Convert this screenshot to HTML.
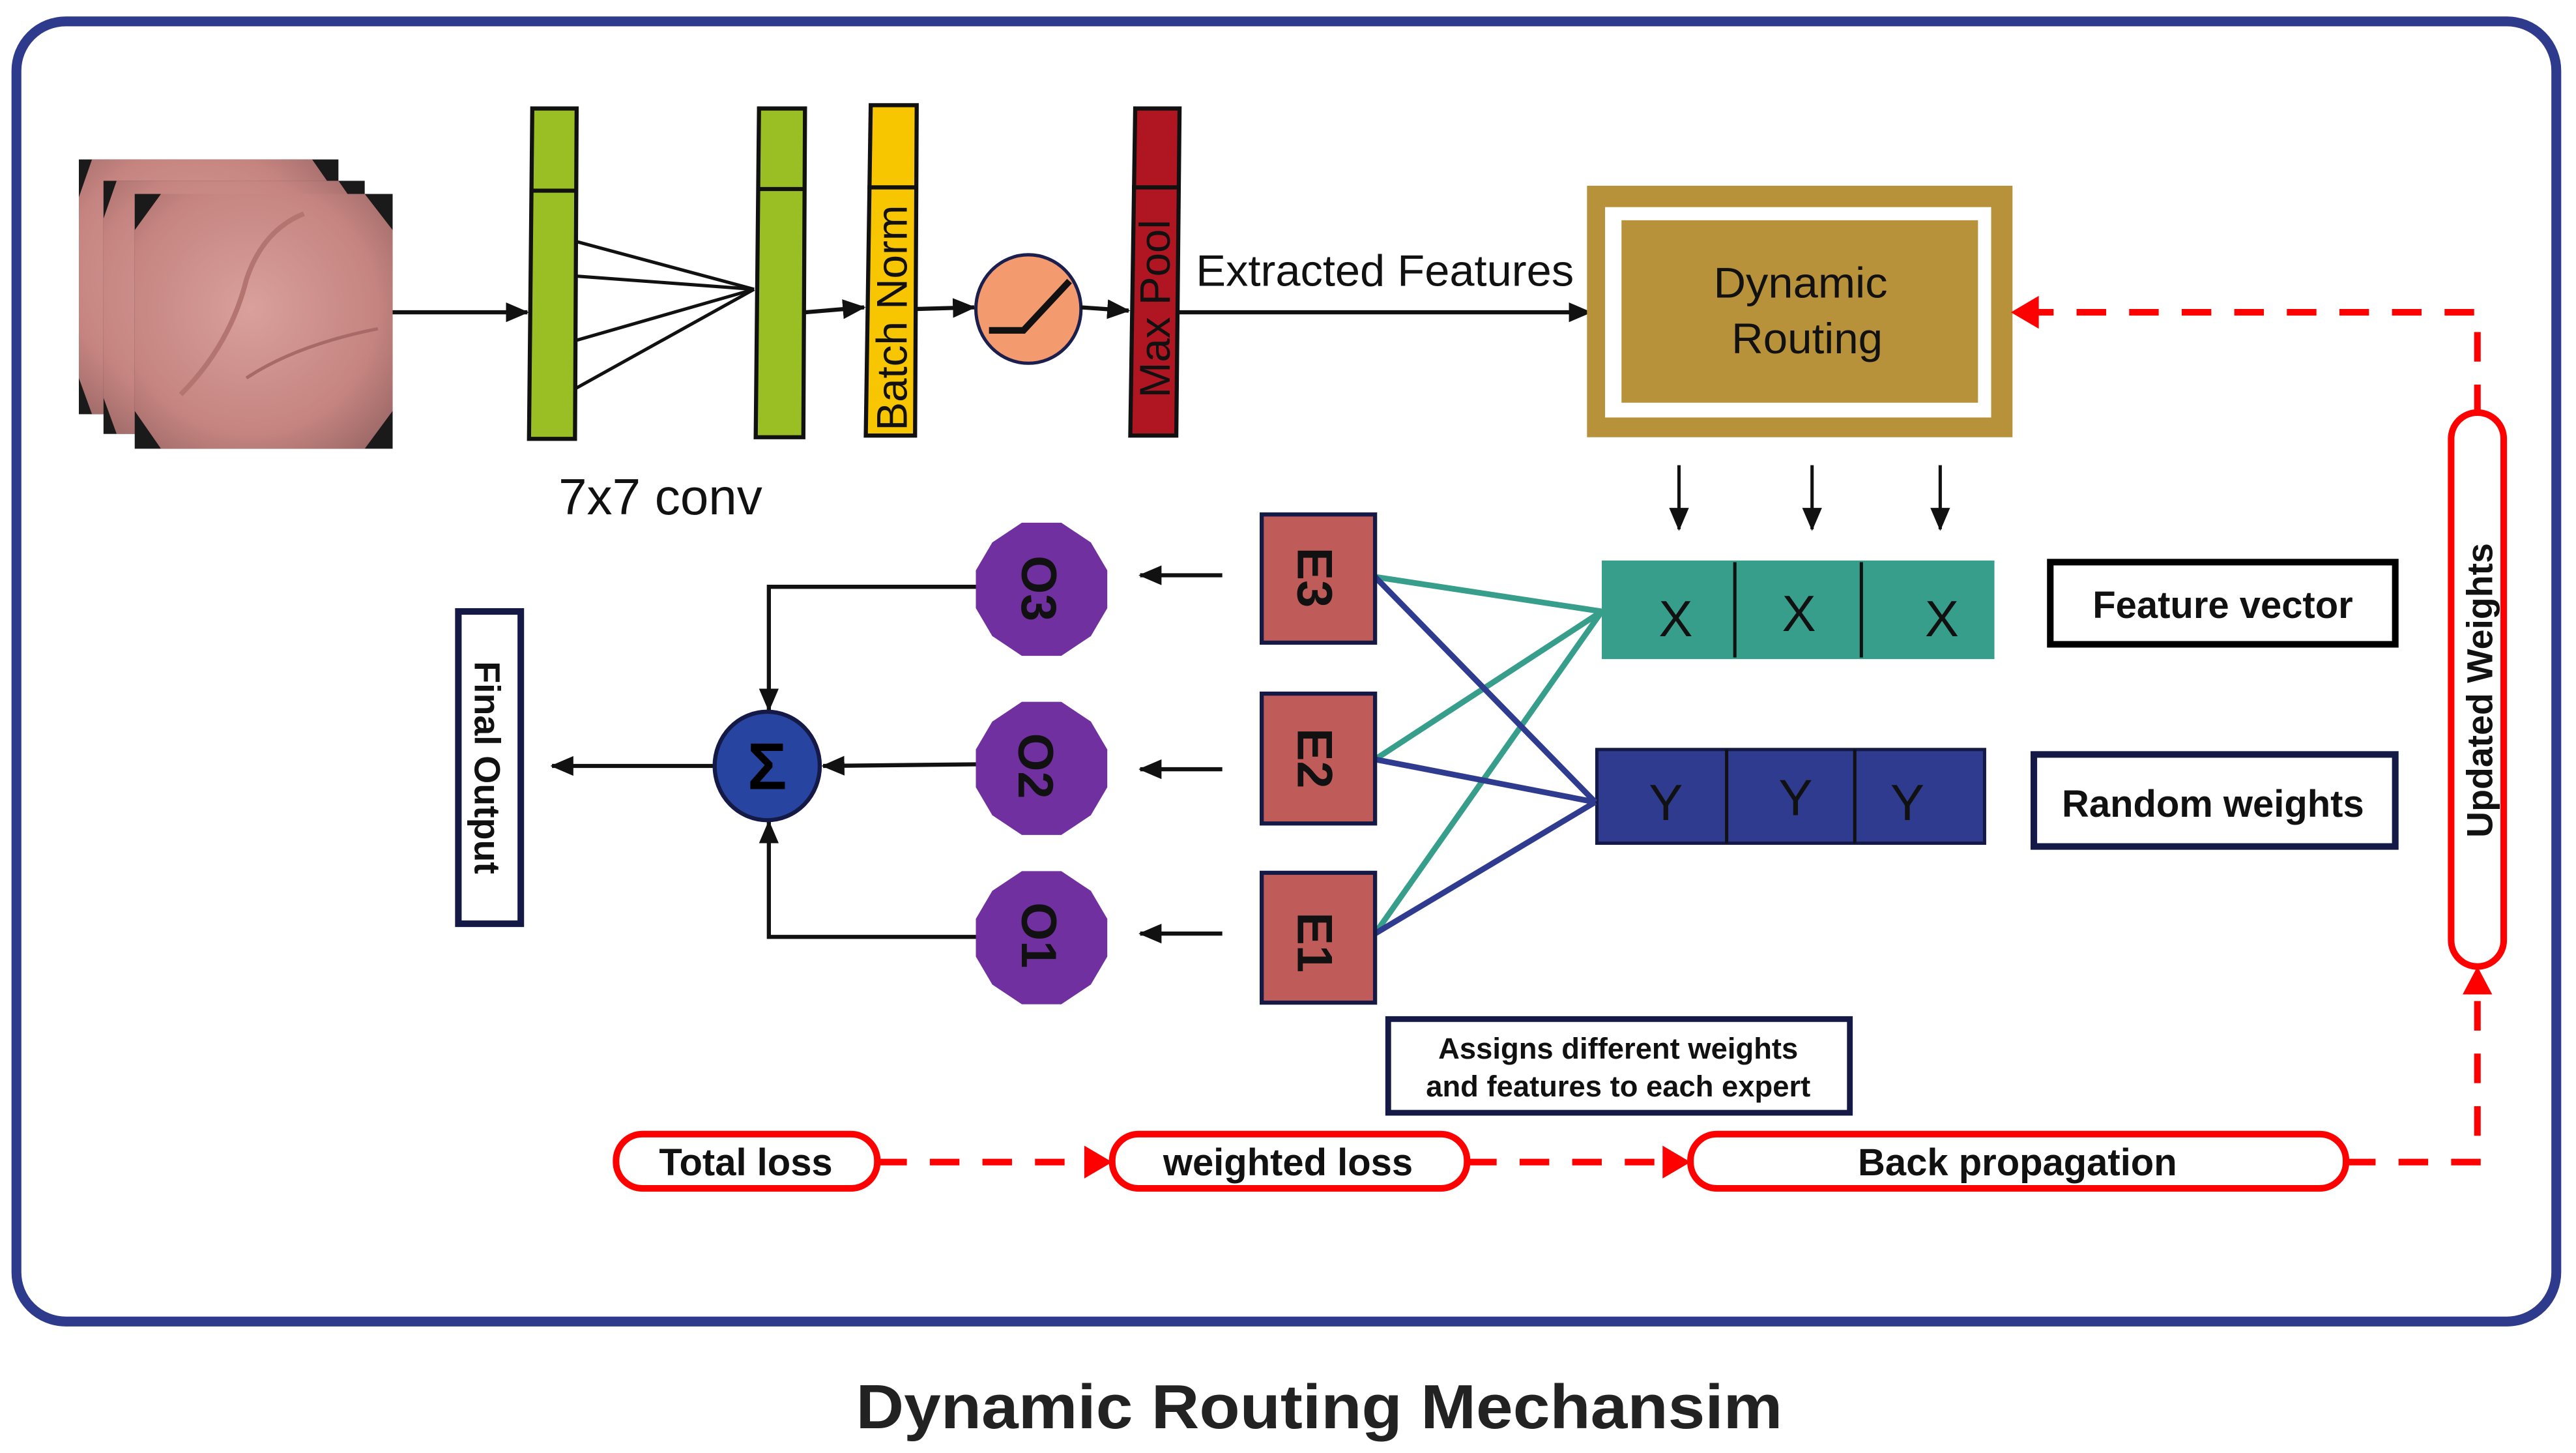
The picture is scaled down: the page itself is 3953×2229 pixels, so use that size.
<!DOCTYPE html>
<html><head><meta charset="utf-8"><style>
html,body{margin:0;padding:0;background:#fff;}
svg{display:block;}
text{font-family:"Liberation Sans",sans-serif;}
</style></head><body>
<svg width="3953" height="2229" viewBox="0 0 1568 884" preserveAspectRatio="none" xmlns="http://www.w3.org/2000/svg">
<defs>
<marker id="ab" markerWidth="14" markerHeight="12" refX="13" refY="6" orient="auto" markerUnits="userSpaceOnUse"><path d="M0,0 L14,6 L0,12 z" fill="#111"/></marker>
<radialGradient id="pk" cx="0.45" cy="0.45" r="0.7"><stop offset="0" stop-color="#d9a09c"/><stop offset="0.7" stop-color="#c58480"/><stop offset="1" stop-color="#9e6a68"/></radialGradient>
</defs>
<rect x="10" y="13" width="1546" height="791" rx="30" fill="none" stroke="#2e3a8c" stroke-width="6"/>

<g>
<rect x="48" y="97" width="158" height="155" fill="#1a1a1a"/>
<polygon points="56,97 190,97 206,120 206,230 190,252 56,252 48,230 48,120" fill="url(#pk)"/>
<rect x="63" y="110" width="159" height="154" fill="#1a1a1a"/>
<polygon points="71,110 206,110 222,133 222,242 206,264 71,264 63,242 63,133" fill="url(#pk)"/>
<rect x="82" y="118" width="157" height="155" fill="#1a1a1a"/>
<polygon points="98,118 222,118 239,140 239,250 222,273 98,273 82,250 82,140" fill="url(#pk)"/>
<path d="M110,240 Q140,210 150,170 Q160,140 185,130" stroke="#b47571" stroke-width="3" fill="none"/>
<path d="M150,230 Q180,210 230,200" stroke="#a86a68" stroke-width="2" fill="none"/>
</g>
<line x1="239" y1="190" x2="321" y2="190" stroke="#111" stroke-width="2.5" marker-end="url(#ab)"/>

<polygon points="324,66 351,66 350,267 322,267" fill="#9abf25" stroke="#111" stroke-width="2.5"/>
<line x1="323" y1="116" x2="350" y2="116" stroke="#111" stroke-width="2.5"/>
<polygon points="462,66 490,66 489,266 460,266" fill="#9abf25" stroke="#111" stroke-width="2.5"/>
<line x1="461" y1="115" x2="489" y2="115" stroke="#111" stroke-width="2.5"/>
<g stroke="#111" stroke-width="2">
<line x1="351" y1="147" x2="459" y2="176"/><line x1="351" y1="168" x2="459" y2="176"/>
<line x1="351" y1="207" x2="459" y2="176"/><line x1="351" y1="236" x2="459" y2="176"/>
</g>
<text x="402" y="313" font-size="31" text-anchor="middle" fill="#111">7x7 conv</text>
<line x1="490" y1="190" x2="526" y2="187" stroke="#111" stroke-width="2.5" marker-end="url(#ab)"/>
<polygon points="530,64 558,64 557,265 527,265" fill="#f7c600" stroke="#111" stroke-width="2.5"/>
<line x1="528" y1="114" x2="557" y2="114" stroke="#111" stroke-width="2.5"/>
<text transform="translate(552,262) rotate(-90)" font-size="26" fill="#111">Batch Norm</text>
<line x1="557" y1="188" x2="593" y2="187" stroke="#111" stroke-width="2.5" marker-end="url(#ab)"/>
<ellipse cx="626" cy="188" rx="32" ry="33" fill="#f39a6e" stroke="#1a1f4e" stroke-width="2"/>
<polyline points="602,201 623,201 651,171" fill="none" stroke="#111" stroke-width="4"/>
<line x1="658" y1="187" x2="687" y2="189" stroke="#111" stroke-width="2.5" marker-end="url(#ab)"/>
<polygon points="691,66 718,66 716,265 688,265" fill="#b01522" stroke="#111" stroke-width="2.5"/>
<line x1="689" y1="114" x2="717" y2="114" stroke="#111" stroke-width="2.5"/>
<text transform="translate(712,242) rotate(-90)" font-size="26" fill="#111">Max Pool</text>
<line x1="717" y1="190" x2="968" y2="190" stroke="#111" stroke-width="2.5" marker-end="url(#ab)"/>
<text x="728" y="174" font-size="27" fill="#111" textLength="230" lengthAdjust="spacingAndGlyphs">Extracted Features</text>

<rect x="966" y="113" width="259" height="153" fill="#b8923a"/>
<rect x="977" y="126" width="235" height="128" fill="#fff"/>
<rect x="987" y="134" width="217" height="111" fill="#b8923a"/>
<text x="1096" y="181" font-size="26" text-anchor="middle" fill="#111" textLength="106" lengthAdjust="spacingAndGlyphs">Dynamic</text>
<text x="1100" y="215" font-size="26" text-anchor="middle" fill="#111" textLength="92" lengthAdjust="spacingAndGlyphs">Routing</text>

<g stroke="#111" stroke-width="2">
<line x1="1022" y1="283" x2="1022" y2="322" marker-end="url(#ab)"/>
<line x1="1103" y1="283" x2="1103" y2="322" marker-end="url(#ab)"/>
<line x1="1181" y1="283" x2="1181" y2="322" marker-end="url(#ab)"/>
</g>
<rect x="975" y="341" width="239" height="60" fill="#389e8c"/>
<line x1="1056" y1="342" x2="1056" y2="400" stroke="#111" stroke-width="2"/>
<line x1="1133" y1="342" x2="1133" y2="400" stroke="#111" stroke-width="2"/>
<g font-size="31" fill="#111" text-anchor="middle"><text x="1020" y="387">X</text><text x="1095" y="384">X</text><text x="1182" y="387">X</text></g>
<rect x="1248" y="342" width="210" height="50" fill="#fff" stroke="#000" stroke-width="4"/>
<text x="1353" y="376" font-size="23" font-weight="bold" text-anchor="middle" fill="#111">Feature vector</text>

<rect x="972" y="456" width="236" height="57" fill="#2e3b8e" stroke="#141a45" stroke-width="2"/>
<line x1="1051" y1="456" x2="1051" y2="513" stroke="#111" stroke-width="2"/>
<line x1="1129" y1="456" x2="1129" y2="513" stroke="#111" stroke-width="2"/>
<g font-size="31" fill="#111" text-anchor="middle"><text x="1014" y="499">Y</text><text x="1093" y="496">Y</text><text x="1161" y="499">Y</text></g>
<rect x="1238" y="459" width="220" height="56" fill="#fff" stroke="#141a45" stroke-width="4"/>
<text x="1347" y="497" font-size="23" font-weight="bold" text-anchor="middle" fill="#111">Random weights</text>

<g stroke="#389e8c" stroke-width="3.5">
<line x1="837" y1="351" x2="975" y2="372"/><line x1="837" y1="462" x2="975" y2="372"/><line x1="837" y1="568" x2="975" y2="372"/>
</g>
<g stroke="#2e3b8e" stroke-width="3.5">
<line x1="837" y1="351" x2="971" y2="488"/><line x1="837" y1="462" x2="971" y2="488"/><line x1="837" y1="568" x2="971" y2="488"/>
</g>

<g fill="#bf5c5a" stroke="#141a45" stroke-width="2.5">
<rect x="768" y="313" width="69" height="78"/><rect x="768" y="422" width="69" height="79"/><rect x="768" y="531" width="69" height="79"/>
</g>
<g font-size="30" font-weight="bold" fill="#111">
<text transform="translate(790,333) rotate(90)">E3</text>
<text transform="translate(790,443) rotate(90)">E2</text>
<text transform="translate(790,555) rotate(90)">E1</text>
</g>
<g stroke="#111" stroke-width="2.5">
<line x1="744" y1="350" x2="694" y2="350" marker-end="url(#ab)"/>
<line x1="744" y1="468" x2="694" y2="468" marker-end="url(#ab)"/>
<line x1="744" y1="568" x2="694" y2="568" marker-end="url(#ab)"/>
</g>
<g fill="#7030a0">
<polygon points="622,318 646,318 664,330 674,347 674,370 664,387 646,399 622,399 604,387 594,370 594,347 604,330"/>
<polygon points="622,427 646,427 664,439 674,456 674,479 664,496 646,508 622,508 604,496 594,479 594,456 604,439"/>
<polygon points="622,530 646,530 664,542 674,559 674,582 664,599 646,611 622,611 604,599 594,582 594,559 604,542"/>
</g>
<g font-size="30" font-weight="bold" fill="#111">
<text transform="translate(622,338) rotate(90)">O3</text>
<text transform="translate(620,446) rotate(90)">O2</text>
<text transform="translate(622,549) rotate(90)">O1</text>
</g>
<g stroke="#111" stroke-width="2.5" fill="none">
<polyline points="594,357 468,357 468,432" marker-end="url(#ab)"/>
<polyline points="594,570 468,570 468,500" marker-end="url(#ab)"/>
<line x1="594" y1="465" x2="501" y2="466" marker-end="url(#ab)"/>
<line x1="435" y1="466" x2="336" y2="466" marker-end="url(#ab)"/>
</g>
<ellipse cx="467" cy="466" rx="32" ry="33" fill="#2744a0" stroke="#141a45" stroke-width="2.5"/>
<text x="467" y="480" font-size="40" font-weight="bold" text-anchor="middle" fill="#000">Σ</text>
<rect x="279" y="372" width="38" height="190" fill="#fff" stroke="#141a45" stroke-width="4"/>
<text transform="translate(289,467) rotate(90)" font-size="22" font-weight="bold" text-anchor="middle" fill="#111">Final Output</text>

<rect x="845" y="620" width="281" height="57" fill="#fff" stroke="#141a45" stroke-width="3.5"/>
<text x="985" y="644" font-size="18" font-weight="bold" text-anchor="middle" fill="#111">Assigns different weights</text>
<text x="985" y="667" font-size="18" font-weight="bold" text-anchor="middle" fill="#111">and features to each expert</text>

<g fill="#fff" stroke="#f00" stroke-width="4">
<rect x="375" y="690" width="159" height="33" rx="16"/>
<rect x="677" y="690" width="216" height="33" rx="16"/>
<rect x="1029" y="690" width="399" height="33" rx="16"/>
</g>
<g font-size="23" font-weight="bold" fill="#111" text-anchor="middle">
<text x="454" y="715">Total loss</text>
<text x="784" y="715">weighted loss</text>
<text x="1228" y="715">Back propagation</text>
</g>
<g stroke="#f00" stroke-width="4" stroke-dasharray="18,14" fill="none">
<line x1="534" y1="707" x2="660" y2="707"/>
<line x1="893" y1="707" x2="1012" y2="707"/>
<polyline points="1428,707 1508,707 1508,605"/>
<polyline points="1508,252 1508,190 1240,190"/>
</g>
<path d="M660,697 L677,707 L660,717 z" fill="#f00"/>
<path d="M1012,697 L1029,707 L1012,717 z" fill="#f00"/>
<path d="M1499,605 L1508,588 L1517,605 z" fill="#f00"/>
<path d="M1241,180 L1224,190 L1241,200 z" fill="#f00"/>
<rect x="1492" y="251" width="32" height="337" rx="16" fill="#fff" stroke="#f00" stroke-width="4"/>
<text transform="translate(1517,420) rotate(-90)" font-size="22" font-weight="bold" text-anchor="middle" fill="#111">Updated Weights</text>

<text x="803" y="869" font-size="38" font-weight="bold" text-anchor="middle" fill="#222" textLength="564" lengthAdjust="spacingAndGlyphs">Dynamic Routing Mechansim</text>
</svg>
</body></html>
